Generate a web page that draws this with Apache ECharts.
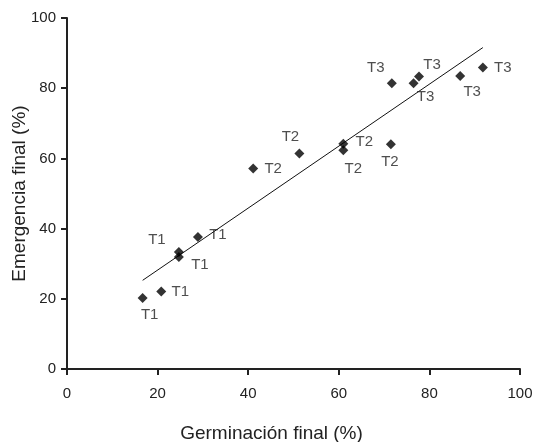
<!DOCTYPE html>
<html>
<head>
<meta charset="utf-8">
<script src="https://cdn.jsdelivr.net/npm/echarts@6/dist/echarts.min.js"></script>
<style>
  html, body { margin: 0; padding: 0; background: #fff; }
  #chart { width: 539px; height: 442px; }
</style>
</head>
<body>
<div id="chart"></div>
<script>
// Final germination (%) vs final emergence (%) per treatment
const treatments = ['T1', 'T1', 'T1', 'T1', 'T1',
                    'T2', 'T2', 'T2', 'T2', 'T2',
                    'T3', 'T3', 'T3', 'T3', 'T3'];
const germinacion = [16.7, 20.8, 24.7, 24.7, 28.9,
                     41.1, 51.3, 61.0, 61.0, 71.5,
                     71.7, 76.5, 77.7, 86.8, 91.8];
const emergencia = [20.2, 22.1, 33.3, 31.9, 37.6,
                    57.1, 61.4, 64.2, 62.3, 64.0,
                    81.4, 81.4, 83.3, 83.5, 85.9];
const axisTicks = [0, 20, 40, 60, 80, 100];

// label offsets (px) so the treatment tags don't overlap the markers
const labelOffsets = [[7, 17], [19, 0], [-22, -12], [21, 8], [20, -2],
                      [20, 0], [-9, -17], [21, -2], [10, 19], [-1, 17],
                      [-16, -15], [12, 14], [13, -12], [12, 16], [20, 0]];

// least-squares trend line across the data range
const n = germinacion.length;
const mx = germinacion.reduce((a, b) => a + b, 0) / n;
const my = emergencia.reduce((a, b) => a + b, 0) / n;
let sxy = 0, sxx = 0;
for (let i = 0; i < n; i++) {
  sxy += (germinacion[i] - mx) * (emergencia[i] - my);
  sxx += (germinacion[i] - mx) ** 2;
}
const slope = sxy / sxx;
const intercept = my - slope * mx;
const xMin = Math.min(...germinacion);
const xMax = Math.max(...germinacion);
const trend = [[xMin, intercept + slope * xMin], [xMax, intercept + slope * xMax]];

const textColor = '#222';
const font = 'Liberation Sans, Arial, Helvetica, sans-serif';

const points = germinacion.map((g, i) => ({
  value: [g, emergencia[i]],
  name: treatments[i],
  label: { offset: labelOffsets[i] }
}));

const axisCommon = {
  type: 'value',
  min: axisTicks[0],
  max: axisTicks[axisTicks.length - 1],
  interval: axisTicks[1] - axisTicks[0],
  splitLine: { show: false },
  axisLine: { show: true, onZero: false, lineStyle: { color: '#222', width: 2 } },
  axisTick: { show: true, inside: false, length: 6, lineStyle: { color: '#222', width: 2 } },
  axisLabel: { color: textColor, fontSize: 15, fontFamily: font },
  nameLocation: 'middle',
  nameMoveOverlap: false,
  nameTextStyle: { color: textColor, fontSize: 19, fontFamily: font }
};

const chart = echarts.init(document.getElementById('chart'), null, { renderer: 'canvas' });
chart.setOption({
  backgroundColor: '#fff',
  animation: false,
  grid: { left: 67, right: 19, top: 18, bottom: 73, containLabel: false, outerBoundsMode: 'none' },
  xAxis: Object.assign({}, axisCommon, {
    name: 'Germinación final (%)',
    nameGap: 55,
    nameTextStyle: Object.assign({}, axisCommon.nameTextStyle, { padding: [0, 44, 0, 0] }),
    axisLabel: Object.assign({}, axisCommon.axisLabel, { margin: 17 })
  }),
  yAxis: Object.assign({}, axisCommon, {
    name: 'Emergencia final (%)',
    nameGap: 38,
    axisLabel: Object.assign({}, axisCommon.axisLabel, { margin: 11 })
  }),
  series: [
    {
      type: 'line',
      data: trend,
      symbol: 'none',
      lineStyle: { color: '#111', width: 1 },
      silent: true,
      z: 1
    },
    {
      type: 'scatter',
      data: points,
      symbol: 'diamond',
      symbolSize: 10,
      itemStyle: { color: '#000' },
      label: {
        show: true,
        position: 'inside',
        formatter: '{b}',
        color: textColor,
        fontSize: 15,
        fontFamily: font
      },
      z: 2
    }
  ]
});
</script>
</body>
</html>
